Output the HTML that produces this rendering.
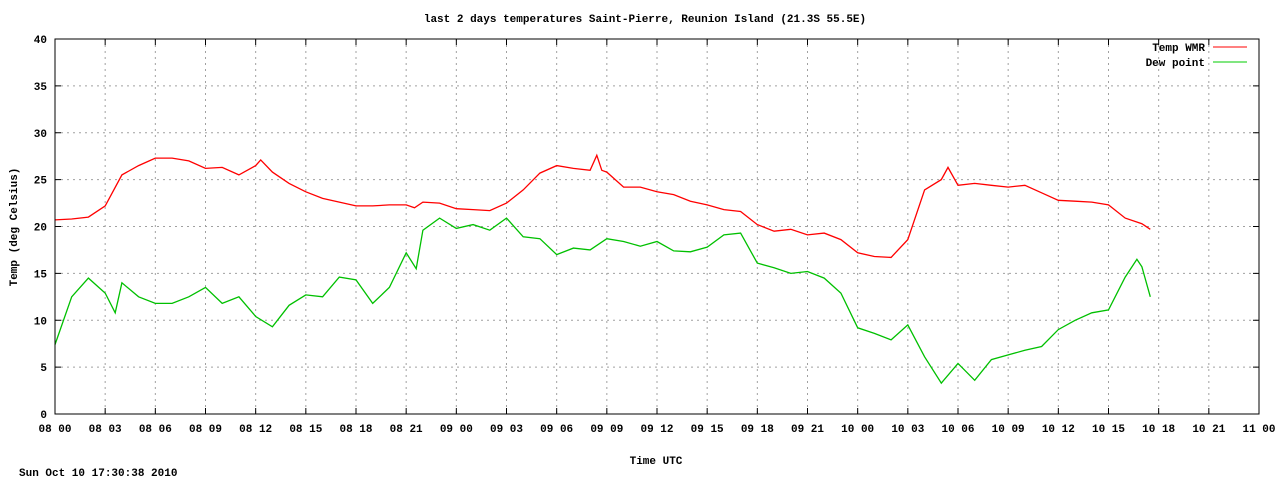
<!DOCTYPE html>
<html><head><meta charset="utf-8"><style>
html,body{margin:0;padding:0;background:#fff;}
svg{display:block;font-family:"Liberation Mono","DejaVu Sans Mono",monospace;font-size:11px;font-weight:bold;}
</style></head><body>
<svg id="chart" width="1280" height="480" xmlns="http://www.w3.org/2000/svg">
<text x="645" y="22" text-anchor="middle">last 2 days temperatures Saint-Pierre, Reunion Island (21.3S 55.5E)</text>
<text transform="translate(17,227) rotate(-90)" text-anchor="middle">Temp (deg Celsius)</text>
<text x="656" y="464" text-anchor="middle">Time UTC</text>
<text x="19" y="476">Sun Oct 10 17:30:38 2010</text>
<g id="grid"></g>
<g id="ticks"></g>
<g id="series"></g>
<rect x="55" y="39" width="1204" height="375" fill="none" stroke="#000" stroke-width="1"/>
<g>
<text x="1205" y="51" text-anchor="end">Temp WMR</text>
<line x1="1213" y1="47" x2="1247" y2="47" stroke="#f00"/>
<text x="1205" y="66" text-anchor="end">Dew point</text>
<line x1="1213" y1="62" x2="1247" y2="62" stroke="#0c0"/>
</g>
</svg>
<script>
const yTicks=[0,5,10,15,20,25,30,35,40];
const xTickLabels=["08 00","08 03","08 06","08 09","08 12","08 15","08 18","08 21","09 00","09 03","09 06","09 09","09 12","09 15","09 18","09 21","10 00","10 03","10 06","10 09","10 12","10 15","10 18","10 21","11 00"];
const tempHours=[0,1,2,3,4,5,6,7,8,9,10,11,12,12.3,13,14,15,16,17,18,19,20,21,21.5,22,23,24,25,26,27,28,29,30,31,32,32.4,32.7,33,34,35,36,37,38,39,40,41,42,43,44,45,46,47,48,49,50,51,52,53,53.4,54,55,56,57,58,59,60,61,62,63,64,65,65.5];
const tempValues=[20.7,20.8,21.0,22.2,25.5,26.5,27.3,27.3,27.0,26.2,26.3,25.5,26.5,27.1,25.8,24.6,23.7,23.0,22.6,22.2,22.2,22.3,22.3,22.0,22.6,22.5,21.9,21.8,21.7,22.5,23.9,25.7,26.5,26.2,26.0,27.6,26.0,25.8,24.2,24.2,23.7,23.4,22.7,22.3,21.8,21.6,20.2,19.5,19.7,19.1,19.3,18.6,17.2,16.8,16.7,18.6,23.9,25.0,26.3,24.4,24.6,24.4,24.2,24.4,23.6,22.8,22.7,22.6,22.3,20.9,20.3,19.7];
const dewHours=[0,1,2,3,3.6,4,5,6,7,8,9,10,11,12,13,14,15,16,17,18,19,20,21,21.6,22,23,24,25,26,27,28,29,30,31,32,33,34,35,36,37,38,39,40,41,42,43,44,45,46,47,48,49,50,51,52,53,54,55,56,57,58,59,60,61,62,63,64,64.7,65,65.5];
const dewValues=[7.4,12.5,14.5,12.9,10.8,14.0,12.5,11.8,11.8,12.5,13.5,11.8,12.5,10.4,9.3,11.6,12.7,12.5,14.6,14.3,11.8,13.5,17.2,15.5,19.6,20.9,19.8,20.2,19.6,20.9,18.9,18.7,17.0,17.7,17.5,18.7,18.4,17.9,18.4,17.4,17.3,17.8,19.1,19.3,16.1,15.6,15.0,15.2,14.5,12.9,9.2,8.6,7.9,9.5,6.1,3.3,5.4,3.6,5.8,6.3,6.8,7.2,9.0,10.0,10.8,11.1,14.6,16.5,15.7,12.5];
const X0=55,X1=1259,Y0=414,Y1=39,H=72,TMAX=40;
const xs=h=>X0+(X1-X0)*h/H;
const ys=v=>Y0-(Y0-Y1)*v/TMAX;
const NS="http://www.w3.org/2000/svg";
const grid=document.getElementById('grid'),ticks=document.getElementById('ticks'),series=document.getElementById('series');
function mk(tag,attrs,parent){const e=document.createElementNS(NS,tag);for(const k in attrs)e.setAttribute(k,attrs[k]);parent.appendChild(e);return e;}
yTicks.forEach(v=>{
  const y=ys(v);
  if(v>0&&v<TMAX){const g=mk('line',{x1:X0,x2:X1,y1:y,y2:y,stroke:'#a0a0a0','stroke-dasharray':'2,4'},grid);
  
  }
  const t=mk('line',{x1:X0,x2:X0+6,y1:y,y2:y,stroke:'#000'},ticks);
  
  
  const t2=mk('line',{x1:X1-6,x2:X1,y1:y,y2:y,stroke:'#000'},ticks);
  
  
  const l=mk('text',{x:47,y:y+4,'text-anchor':'end'},ticks);l.textContent=v;
  
  
});
xTickLabels.forEach((s,i)=>{
  const x=xs(i*3);
  if(i>0&&i<xTickLabels.length-1){const g=mk('line',{x1:x,x2:x,y1:Y1,y2:Y0,stroke:'#a0a0a0','stroke-dasharray':'2,4'},grid);
  
  }
  const t=mk('line',{x1:x,x2:x,y1:Y0-6,y2:Y0,stroke:'#000'},ticks);
  
  
  const t2=mk('line',{x1:x,x2:x,y1:Y1,y2:Y1+6,stroke:'#000'},ticks);
  
  
  const l=mk('text',{x:x,y:432,'text-anchor':'middle'},ticks);l.textContent=s;
  
  
});
function line(hs,vs,color,name){
  const pts=hs.map((h,i)=>xs(h).toFixed(1)+','+ys(vs[i]).toFixed(1)).join(' ');
  const p=mk('polyline',{points:pts,fill:'none',stroke:color,'stroke-width':1.3,'stroke-linejoin':'miter'},series);
  
  
}
line(dewHours,dewValues,'#00c000','dew-point-line');
line(tempHours,tempValues,'#ff0000','temp-wmr-line');
</script>
</body></html>
